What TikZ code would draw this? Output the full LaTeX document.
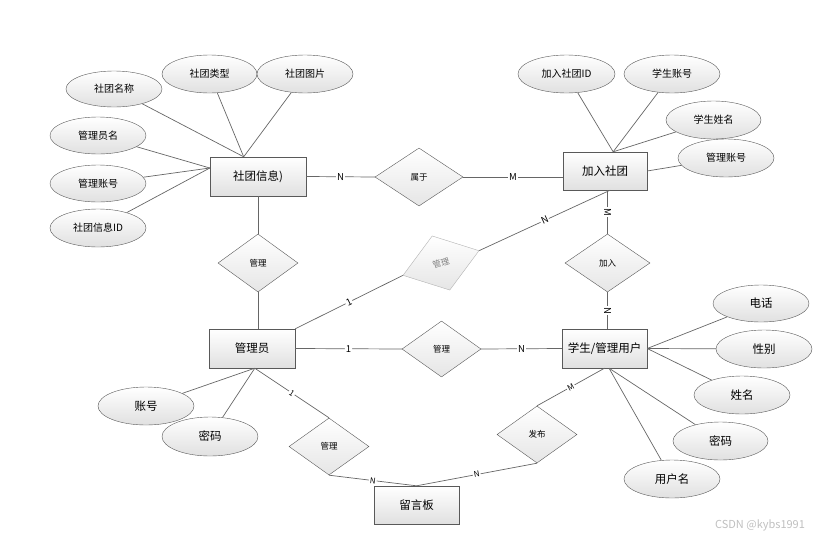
\documentclass[tikz,border=0pt]{standalone}
\usepackage{fontspec}
\setmainfont{Noto Sans CJK SC}
\usepackage{tikz}
\usetikzlibrary{shapes.geometric}

\begin{document}
\begin{tikzpicture}[x=1pt,y=-1pt,
  ent/.style={rectangle,draw=black!65,top color=white,bottom color=black!12,minimum width=85pt,minimum height=38pt,inner sep=0pt,font=\fontsize{11.5}{12}\selectfont},
  attr/.style={ellipse,draw=black!65,top color=white,bottom color=black!12,minimum width=96pt,minimum height=37pt,inner sep=0pt,font=\fontsize{10}{12}\selectfont},
  attrbig/.style={attr,font=\fontsize{11.5}{12}\selectfont},
  rel/.style={diamond,draw=black!65,top color=white,bottom color=black!10,minimum width=80pt,minimum height=57pt,inner sep=0pt,font=\fontsize{8.5}{10}\selectfont},
  link/.style={draw=black!60,line width=0.7pt},
  card/.style={midway,sloped,fill=white,inner sep=1pt,font=\fontsize{9.5}{10}\selectfont},
  cardsm/.style={card,font=\fontsize{8}{9}\selectfont}]
  \useasboundingbox (0,0) rectangle (837,541);

  \node[ent,minimum width=96pt,minimum height=39pt] (club) at (258,176.5) {社团信息)};
  \node[ent,minimum width=84pt] (join) at (605,171) {加入社团};
  \node[ent,minimum width=86pt,minimum height=39pt] (admin) at (252,348.5) {管理员};
  \node[ent,minimum height=39pt] (user) at (604.5,348.5) {学生/管理用户};
  \node[ent] (board) at (416.5,505) {留言板};

  \node[rel,minimum width=88pt,minimum height=58pt] (belong) at (419,177) {属于};
  \node[rel,minimum height=58pt] (mgra) at (258,263) {管理};
  \node[rel,draw=black!30,text=black!50,rotate=18] (mgrb) at (441,263) {管理};
  \node[rel,minimum width=85pt,minimum height=58pt] (enter) at (607.5,263) {加入};
  \node[rel,minimum width=79pt,minimum height=56pt] (mgrc) at (441.5,349) {管理};
  \node[rel] (mgrd) at (329,446.5) {管理};
  \node[rel] (post) at (537,434.5) {发布};

  \node[attr,minimum height=36pt] (a1) at (114,89) {社团名称};
  \node[attr,minimum width=95pt,minimum height=38pt] (a2) at (209.5,74) {社团类型};
  \node[attr,minimum height=38pt] (a3) at (305,74) {社团图片};
  \node[attr] (a4) at (98,135.5) {管理员名};
  \node[attr] (a5) at (98,183.5) {管理账号};
  \node[attr,minimum height=38pt] (a6) at (98,228) {社团信息ID};

  \node[attr,minimum width=97pt,minimum height=38pt] (b1) at (566.5,74) {加入社团ID};
  \node[attr,minimum height=38pt] (b2) at (672,74) {学生账号};
  \node[attr,minimum width=95pt,minimum height=38pt] (b3) at (713.5,120) {学生姓名};
  \node[attr,minimum height=38pt] (b4) at (726,158) {管理账号};

  \node[attrbig] (c1) at (761,303.5) {电话};
  \node[attrbig,minimum height=38pt] (c2) at (764,349) {性别};
  \node[attrbig,minimum height=38pt] (c3) at (742,395) {姓名};
  \node[attrbig,minimum width=95pt,minimum height=38pt] (c4) at (720.5,441) {密码};
  \node[attrbig,minimum height=38pt] (c5) at (672,479) {用户名};

  \node[attrbig,minimum height=38pt] (d1) at (146,406) {账号};
  \node[attrbig,minimum height=39pt] (d2) at (210,436.5) {密码};

  \draw[link] (a1) -- (club.126);
  \draw[link] (a2) -- (club.126);
  \draw[link] (a3) -- (club.126);
  \draw[link] (a4) -- (club.170);
  \draw[link] (a5) -- (club.170);
  \draw[link] (a6) -- (club.170);

  \draw[link] (b1) -- (join.67);
  \draw[link] (b2) -- (join.67);
  \draw[link] (b3) -- (join.67);
  \draw[link] (b4) -- (join.east);

  \draw[link] (c1) -- (user.east);
  \draw[link] (c2) -- (user.east);
  \draw[link] (c3) -- (user.east);
  \draw[link] (c4) -- (user.-77);
  \draw[link] (c5) -- (user.-77);

  \draw[link] (d1) -- (admin.-82);
  \draw[link] (d2) -- (admin.-82);

  \draw[link] (club.east) -- (belong.west) node[card] {N};
  \draw[link] (belong.east) -- (belong.east -| join.west) node[card] {M};
  \draw[link] (club.south) -- (mgra.north);
  \draw[link] (mgra.south) -- (mgra.south |- admin.north);
  \draw[link] (admin.north east) -- (mgrb.west) node[card] {1};
  \draw[link] (mgrb.east) -- (join.-75) node[card] {N};
  \draw[link] (enter.north |- join.south) -- (enter.north) node[card] {M};
  \draw[link] (enter.south) -- (enter.south |- user.north) node[card] {N};
  \draw[link] (admin.east) -- (mgrc.west) node[card] {1};
  \draw[link] (mgrc.east) -- (user.west) node[card] {N};
  \draw[link] (admin.-82) -- (mgrd.north) node[cardsm] {1};
  \draw[link] (mgrd.south) -- (board.north) node[cardsm] {N};
  \draw[link] (board.north) -- (post.south) node[cardsm] {N};
  \draw[link] (post.north) -- (user.south) node[cardsm] {M};

  \node[text=black!25,font=\fontsize{11}{12}\selectfont] (mark) at (760,525) {CSDN @kybs1991};
\end{tikzpicture}
\end{document}
